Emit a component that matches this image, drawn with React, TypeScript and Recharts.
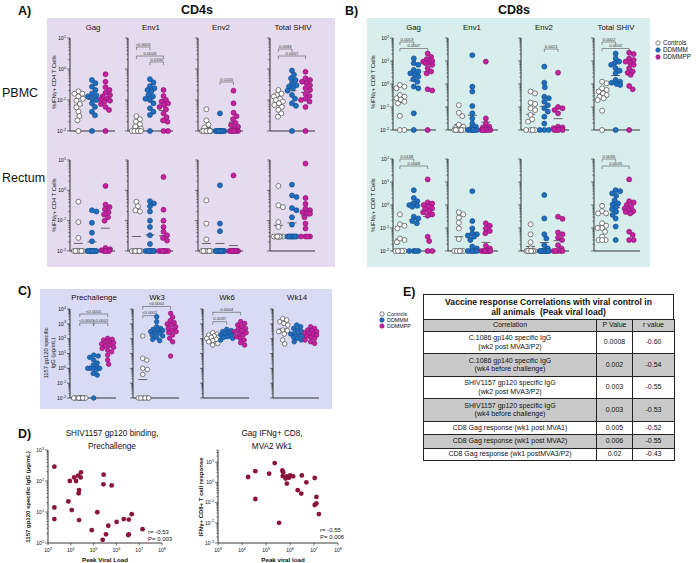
import React from 'react';
import { ScatterChart, Scatter, XAxis, YAxis, ReferenceLine } from 'recharts';

const FONT = '"Liberation Sans", Arial, Helvetica, sans-serif';

const groupNames = ['Controls', 'DDMMM', 'DDMMPP'];
const groupFill = ['#ffffff', '#1f6dbf', '#c4229f'];
const groupStroke = ['#4a4a4a', '#15508e', '#8c1675'];

const antigens = ['Gag', 'Env1', 'Env2', 'Total SHIV'];
const timepoints = ['Prechallenge', 'Wk3', 'Wk6', 'Wk14'];

// ---- A) CD4s, % IFNg+ CD4 T cells  [Controls, DDMMM, DDMMPP]
const cd4PbmcGag = [
  [0.19, 0.16, 0.16, 0.13, 0.11, 0.095, 0.074, 0.058, 0.042, 0.03, 0.022, 0.01],
  [0.44, 0.35, 0.27, 0.21, 0.16, 0.14, 0.13, 0.11, 0.1, 0.078, 0.06, 0.042, 0.032, 0.01],
  [0.68, 0.39, 0.26, 0.21, 0.17, 0.145, 0.13, 0.11, 0.105, 0.095, 0.089, 0.074, 0.06, 0.048, 0.01],
];
const cd4PbmcEnv1 = [
  [0.03, 0.024, 0.02, 0.0165, 0.014, 0.012, 0.01, 0.01, 0.01, 0.01, 0.01, 0.01],
  [0.47, 0.37, 0.28, 0.24, 0.21, 0.19, 0.145, 0.13, 0.11, 0.1, 0.078, 0.054, 0.042, 0.033, 0.01],
  [0.21, 0.135, 0.1, 0.089, 0.078, 0.069, 0.06, 0.05, 0.037, 0.028, 0.022, 0.02, 0.01, 0.01],
];
const cd4PbmcEnv2 = [
  [0.05, 0.022, 0.016, 0.013, 0.01, 0.01, 0.01, 0.01, 0.01, 0.01, 0.01, 0.01],
  [0.037, 0.01, 0.01, 0.01, 0.01, 0.01, 0.01, 0.01, 0.01, 0.01, 0.01, 0.01, 0.01, 0.01],
  [0.2, 0.078, 0.039, 0.03, 0.024, 0.018, 0.0155, 0.0138, 0.012, 0.01, 0.01, 0.01, 0.01, 0.01, 0.01],
];
const cd4PbmcTotal = [
  [0.21, 0.16, 0.145, 0.13, 0.11, 0.1, 0.089, 0.078, 0.069, 0.06, 0.048, 0.037, 0.029],
  [0.89, 0.65, 0.5, 0.44, 0.35, 0.3, 0.27, 0.24, 0.2, 0.145, 0.11, 0.078, 0.065, 0.01],
  [0.81, 0.5, 0.44, 0.39, 0.35, 0.3, 0.24, 0.21, 0.16, 0.135, 0.11, 0.1, 0.089, 0.06, 0.01],
];
const cd4RectumGag = [
  [0.42, 0.09, 0.027, 0.01, 0.01, 0.01, 0.01, 0.01, 0.01, 0.01, 0.01, 0.01],
  [0.22, 0.2, 0.085, 0.04, 0.021, 0.01, 0.01, 0.01, 0.01, 0.01, 0.01, 0.01, 0.01, 0.01, 0.01],
  [1.4, 0.34, 0.28, 0.24, 0.19, 0.16, 0.13, 0.1, 0.0126, 0.0114, 0.0105, 0.01, 0.01, 0.01, 0.01],
];
const cd4RectumEnv1 = [
  [0.42, 0.3, 0.22, 0.2, 0.01, 0.01, 0.01, 0.01, 0.01, 0.01, 0.01, 0.01],
  [0.44, 0.37, 0.3, 0.2, 0.1, 0.062, 0.033, 0.017, 0.01, 0.01, 0.01, 0.01, 0.01, 0.01, 0.01, 0.01],
  [2.75, 0.23, 0.1, 0.062, 0.043, 0.033, 0.027, 0.022, 0.01, 0.01, 0.01, 0.01, 0.01, 0.01, 0.01],
];
const cd4RectumEnv2 = [
  [0.47, 0.08, 0.024, 0.01, 0.01, 0.01, 0.01, 0.01, 0.01, 0.01, 0.01, 0.01],
  [1.46, 0.08, 0.045, 0.01, 0.01, 0.01, 0.01, 0.01, 0.01, 0.01, 0.01, 0.01, 0.01, 0.01, 0.01],
  [3.1, 0.01, 0.01, 0.01, 0.01, 0.01, 0.01, 0.01, 0.01, 0.01, 0.01, 0.01, 0.01, 0.01],
];
const cd4RectumTotal = [
  [1.39, 0.32, 0.28, 0.09, 0.062, 0.03, 0.03, 0.03, 0.03, 0.03, 0.03, 0.03],
  [1.54, 0.68, 0.6, 0.26, 0.22, 0.13, 0.074, 0.03, 0.03, 0.03, 0.03, 0.03, 0.03, 0.03, 0.03, 0.03],
  [7.6, 0.56, 0.36, 0.25, 0.22, 0.19, 0.18, 0.17, 0.13, 0.08, 0.055, 0.03, 0.03, 0.03, 0.03],
];

// ---- B) CD8s, % IFNg+ CD8 T cells
const cd8PbmcGag = [
  [0.91, 0.77, 0.65, 0.33, 0.28, 0.24, 0.21, 0.17, 0.145, 0.041, 0.01, 0.01],
  [13, 8, 6.8, 4.1, 3.5, 2.9, 2.5, 2.1, 1.6, 1.26, 0.77, 0.65, 0.053, 0.01],
  [21, 15, 12, 10, 9.4, 8.5, 8, 6.8, 4.8, 3.5, 2.9, 0.59, 0.52, 0.01],
];
const cd8PbmcEnv1 = [
  [0.12, 0.056, 0.04, 0.017, 0.014, 0.012, 0.01, 0.01, 0.01, 0.01, 0.01, 0.01],
  [18, 0.77, 0.47, 0.11, 0.053, 0.032, 0.019, 0.014, 0.012, 0.01, 0.01, 0.01, 0.01, 0.01, 0.01],
  [9.4, 0.032, 0.019, 0.014, 0.013, 0.012, 0.01, 0.01, 0.01, 0.01, 0.01, 0.01],
];
const cd8PbmcEnv2 = [
  [0.47, 0.39, 0.155, 0.135, 0.088, 0.074, 0.045, 0.029, 0.023, 0.01, 0.01, 0.01, 0.01],
  [5.7, 1.14, 0.72, 0.28, 0.24, 0.17, 0.12, 0.088, 0.063, 0.038, 0.019, 0.01, 0.01, 0.01],
  [3.1, 0.1, 0.088, 0.074, 0.053, 0.014, 0.013, 0.012, 0.011, 0.01, 0.01, 0.01, 0.01],
];
const cd8PbmcTotal = [
  [1.26, 1.07, 0.65, 0.55, 0.47, 0.39, 0.33, 0.28, 0.24, 0.2, 0.069, 0.01],
  [21, 13, 9.4, 8, 6.8, 4.8, 3.8, 2.9, 1.5, 1.26, 1.14, 1.0, 0.91, 0.01],
  [23, 20, 13, 11, 9.4, 8, 6.8, 4.8, 3.5, 3.1, 2.5, 0.82, 0.59, 0.01],
];
const cd8RectumGag = [
  [0.39, 0.145, 0.126, 0.096, 0.035, 0.03, 0.024, 0.01, 0.01, 0.01, 0.01, 0.01],
  [4.4, 2.0, 1.47, 1.16, 0.99, 0.92, 0.84, 0.31, 0.26, 0.2, 0.16, 0.01, 0.01, 0.01, 0.01],
  [13, 1.29, 1.16, 0.99, 0.84, 0.71, 0.66, 0.54, 0.48, 0.39, 0.34, 0.042, 0.027, 0.01, 0.01],
];
const cd8RectumEnv1 = [
  [0.48, 0.39, 0.28, 0.17, 0.096, 0.033, 0.01, 0.01, 0.01, 0.01, 0.01, 0.01],
  [4.0, 0.2, 0.096, 0.059, 0.053, 0.047, 0.042, 0.03, 0.0155, 0.013, 0.01, 0.01, 0.01, 0.01, 0.01],
  [0.16, 0.126, 0.096, 0.074, 0.059, 0.017, 0.013, 0.01, 0.01, 0.01, 0.01, 0.01, 0.01, 0.01],
];
const cd8RectumEnv2 = [
  [0.145, 0.053, 0.024, 0.013, 0.01, 0.01, 0.01, 0.01, 0.01, 0.01, 0.01, 0.01],
  [2.7, 0.26, 0.053, 0.035, 0.018, 0.013, 0.01, 0.01, 0.01, 0.01, 0.01, 0.01, 0.01, 0.01, 0.01],
  [0.31, 0.25, 0.064, 0.053, 0.038, 0.03, 0.018, 0.013, 0.01, 0.01, 0.01, 0.01, 0.01],
];
const cd8RectumTotal = [
  [0.92, 0.54, 0.43, 0.43, 0.16, 0.126, 0.1, 0.1, 0.069, 0.042, 0.03, 0.03, 0.03],
  [4.4, 4.0, 3.2, 2.5, 1.6, 1.17, 1.05, 0.84, 0.66, 0.51, 0.37, 0.26, 0.115, 0.03],
  [13, 1.47, 1.29, 0.99, 0.83, 0.71, 0.6, 0.54, 0.51, 0.43, 0.069, 0.05, 0.03, 0.03],
];

// ---- C) 1157 gp120 specific IgG (ug/mL)
const igPre = [
  [0.01, 0.01, 0.01, 0.01, 0.01, 0.01, 0.01, 0.01, 0.01, 0.01],
  [7.8, 6.8, 5.5, 3.6, 2.3, 1.65, 1.15, 1.0, 1.0, 1.0, 1.0, 0.76, 0.45, 0.35, 0.01],
  [105, 90, 81, 69, 62, 53, 44, 37, 32, 26, 22, 17, 13, 7.8, 3.6, 1.9],
];
const igWk3 = [
  [150, 4.7, 3.6, 1.0, 0.84, 0.39, 0.01, 0.01, 0.01, 0.01, 0.01, 0.01],
  [3000, 1400, 640, 490, 420, 380, 350, 300, 250, 230, 175, 150, 123, 90, 73],
  [5100, 2800, 1600, 1200, 980, 830, 640, 490, 380, 300, 250, 175, 105, 62, 6.7],
];
const igWk6 = [
  [250, 205, 175, 150, 136, 123, 105, 90, 73, 62, 48, 37],
  [420, 350, 300, 250, 230, 205, 175, 150, 136, 123, 105, 81],
  [1400, 1070, 830, 640, 490, 420, 350, 300, 250, 205, 175, 136, 105, 81, 53, 37],
];
const igWk14 = [
  [2300, 1800, 1400, 1070, 830, 380, 350, 300, 205, 81, 44],
  [830, 640, 490, 380, 300, 230, 205, 175, 150, 123, 105, 81, 62],
  [640, 490, 380, 350, 300, 250, 230, 195, 175, 150, 123, 105, 81, 62, 48],
];

// significance brackets: [group a, group b, p]
type Stat = [number, number, string];
const cd4PbmcStats: Stat[][] = [[], [[0, 1, '<0.0001'], [0, 2, '0.0003'], [1, 2, '0.0100']], [[1, 2, '0.0100']], [[0, 1, '0.0084'], [0, 2, '0.0407']]];
const cd8PbmcStats: Stat[][] = [[[0, 1, '0.0013'], [0, 2, '0.0007']], [], [[1, 2, '0.0421']], [[0, 1, '0.0002'], [0, 2, '0.0002']]];
const cd8RectumStats: Stat[][] = [[[0, 1, '0.0138'], [0, 2, '0.0069']], [], [], [[0, 1, '0.0035'], [0, 2, '0.0026']]];
const igStats: Stat[][] = [[[0, 2, '<0.0001'], [0, 1, '<0.0001'], [1, 2, '<0.0001']], [[0, 2, '<0.0001'], [0, 1, '<0.0001']], [[0, 2, '0.0004'], [0, 1, '0.0037']], []];

// ---- D) correlations with peak viral load
const vlGp120 = [1.9e3, 1.9e3, 1.9e3, 7.8e3, 9.1e3, 1.1e4, 1.4e4, 1.7e4, 2.1e4, 2.2e4, 2.3e4, 2.3e4, 2.7e4, 2.8e4, 8.3e4, 1.45e5, 2.7e5, 2.75e5, 2.5e5, 3.5e5, 4.4e5, 6.2e5, 1.02e6, 2.1e6, 3.3e6, 3.5e6, 3.5e6, 4.7e6, 1.4e7];
const igGp120 = [290, 14, 5.9, 22, 100, 11.5, 130, 100, 150, 40, 51, 5.5, 130, 190, 2.6, 9.8, 78, 160, 1.27, 1.9, 3.6, 72, 4.8, 5.9, 1.8, 1.9, 5.7, 8.5, 2.8];
const vlGag = [1.8e4, 3.6e4, 3.6e4, 1.35e5, 2.3e5, 3.5e5, 4.8e5, 5.0e5, 5.2e5, 6.6e5, 7.4e5, 9.1e5, 1.02e6, 7.4e5, 1.35e6, 3.1e6, 2.1e6, 2.95e6, 4.8e6, 1.07e7, 1.26e7, 1.07e7, 1.26e7, 1.6e7];
const gagCd8 = [1.85, 3.6, 0.15, 2.7, 9, 0.01, 3.9, 2.05, 3.2, 1.55, 2.0, 1.7, 2.2, 0.87, 2.0, 2.2, 0.41, 0.28, 1.0, 1.65, 0.19, 0.076, 0.09, 0.027];

// ---- E) table
const tableHead = ['Correlation', 'P Value', 'r value'];
const corrNames = [
  ['C.1086 gp140 specific IgG', '(wk2 post MVA3/P2)'],
  ['C.1086 gp140 specific IgG', '(wk4 before challenge)'],
  ['SHIV1157 gp120 specific IgG', '(wk2 post MVA3/P2)'],
  ['SHIV1157 gp120 specific IgG', '(wk4 before challenge)'],
  ['CD8 Gag response (wk1 post MVA1)'],
  ['CD8 Gag response (wk1 post MVA2)'],
  ['CD8 Gag response (wk1 postMVA3/P2)'],
];
const corrP = ['0.0008', '0.002', '0.003', '0.003', '0.005', '0.006', '0.02'];
const corrR = ['-0.60', '-0.54', '-0.55', '-0.53', '-0.52', '-0.55', '-0.43'];

function logTicks(lo: number, hi: number, minors = true) {
  const out: number[] = [];
  const a = Math.floor(Math.log10(lo) + 1e-9);
  const b = Math.ceil(Math.log10(hi) - 1e-9);
  for (let e = a; e <= b; e++) {
    for (let m = 1; m <= (minors ? 9 : 1); m++) {
      const v = m * Math.pow(10, e);
      if (v >= lo * (1 - 1e-9) && v <= hi * (1 + 1e-9)) out.push(v);
    }
  }
  return out;
}

// simple beeswarm: horizontal pixel offsets so dots don't pile up
function swarm(vals: number[], pxPerLog: number, r: number, maxPx: number) {
  const order = vals.map((_, i) => i).sort((i, j) => vals[j] - vals[i]);
  const placed: { x: number; y: number }[] = [];
  const off = new Array(vals.length).fill(0);
  const d = 2 * r * 0.92;
  for (const i of order) {
    const y = Math.log10(vals[i]) * pxPerLog;
    let best = 0;
    let bestGap = -1;
    const n = 2 * Math.round(maxPx / 0.5);
    for (let k = 0; k <= n; k++) {
      const x = (k % 2 === 1 ? 1 : -1) * Math.ceil(k / 2) * 0.5;
      let gap = Infinity;
      for (const p of placed) gap = Math.min(gap, Math.hypot(x - p.x, y - p.y));
      if (gap >= d) { best = x; break; }
      if (gap > bestGap + 0.01) { bestGap = gap; best = x; }
    }
    placed.push({ x: best, y });
    off[i] = best;
  }
  return off;
}

const Pow = ({ x, y, e, size, anchor }: any) => (
  <text x={x} y={y} fontSize={size} textAnchor={anchor} fill="#111" fontFamily={FONT}>
    10<tspan dy={-size * 0.45} fontSize={size * 0.75}>{e}</tspan>
  </text>
);

function LeftLogTick(props: any) {
  const { x, y, payload, labels, size = 5 } = props;
  const lv = Math.log10(payload.value);
  const e = Math.round(lv);
  const major = Math.abs(lv - e) < 1e-6;
  return (
    <g>
      <line x1={x} x2={x - (major ? 3 : 1.6)} y1={y} y2={y} stroke="#222" strokeWidth={0.6} />
      {major && labels && <Pow x={x - 4} y={y + size * 0.35} e={e} size={size} anchor="end" />}
    </g>
  );
}

function BottomLogTick(props: any) {
  const { x, y, payload, size = 5 } = props;
  const e = Math.round(Math.log10(payload.value));
  return (
    <g>
      <line x1={x} x2={x} y1={y} y2={y + 2.5} stroke="#222" strokeWidth={0.6} />
      <Pow x={x} y={y + 9} e={e} size={size} anchor="middle" />
    </g>
  );
}

const bracketShape = (label: string) => (p: any) => (
  <g>
    <path d={`M${p.x1},${p.y1 + 3}V${p.y1}H${p.x2}V${p.y1 + 3}`} fill="none" stroke="#555" strokeWidth={0.6} />
    <text x={(p.x1 + p.x2) / 2} y={p.y1 - 1.3} fontSize={4.2} textAnchor="middle" fill="#333" fontFamily={FONT}>{label}</text>
  </g>
);

interface DotPlotProps {
  x: number; y: number; w: number; h: number;
  lo: number; hi: number;
  xDomain: [number, number];
  groups: number[][];
  labels?: boolean;
  xTicks?: boolean;
  stats?: Stat[];
  statTops?: number[];
  r?: number;
  spread?: number;
}

function DotPlot({ x, y, w, h, lo, hi, xDomain, groups, labels = false, xTicks = false, stats = [], statTops = [], r = 2.5, spread = 4.5 }: DotPlotProps) {
  const YW = 24, MT = 40, XH = 6, MR = 2;
  const L1 = Math.log10(hi);
  const pxPerLog = h / (L1 - Math.log10(lo));
  const pxPerUnit = w / (xDomain[1] - xDomain[0]);
  const series = groups.map((vals, g) => {
    const offs = swarm(vals, pxPerLog, r, spread);
    return vals.map((v, i) => ({ x: g + offs[i] / pxPerUnit, y: v }));
  });
  const means = groups.map((vals) => Math.pow(10, vals.reduce((s, v) => s + Math.log10(v), 0) / vals.length));
  const half = 4.5 / pxPerUnit;
  return (
    <div style={{ position: 'absolute', left: x - YW, top: y - MT }}>
      <ScatterChart width={YW + w + MR} height={MT + h + XH} margin={{ top: MT, right: MR, bottom: 0, left: 0 }}>
        <XAxis type="number" dataKey="x" domain={xDomain} ticks={[0, 1, 2]} tick={false} height={XH}
          tickLine={xTicks ? { stroke: '#222', strokeWidth: 0.7 } : false} tickSize={2.5}
          axisLine={{ stroke: '#222', strokeWidth: 0.9 }} />
        <YAxis type="number" dataKey="y" scale="log" domain={[lo, hi]} ticks={logTicks(lo, hi)} interval={0}
          width={YW} tickSize={0} tickMargin={0} tickLine={false} axisLine={{ stroke: '#222', strokeWidth: 0.9 }}
          tick={(p: any) => <LeftLogTick {...p} labels={labels} />} />
        {series.map((d, g) => (
          <Scatter key={g} name={groupNames[g]} data={d} isAnimationActive={false}
            shape={(p: any) => <circle cx={p.cx} cy={p.cy} r={r} fill={groupFill[g]} stroke={groupStroke[g]} strokeWidth={0.7} />} />
        ))}
        {means.map((m, g) => (
          <ReferenceLine key={'m' + g} segment={[{ x: g - half, y: m }, { x: g + half, y: m }]} stroke="#555" strokeWidth={0.9} ifOverflow="visible" />
        ))}
        {stats.map(([a, b, pv], k) => {
          const v = Math.pow(10, L1 - statTops[k] / pxPerLog);
          return <ReferenceLine key={'s' + k} segment={[{ x: a, y: v }, { x: b, y: v }]} ifOverflow="visible" shape={bracketShape(pv)} />;
        })}
      </ScatterChart>
    </div>
  );
}

interface CorrPlotProps {
  x: number; y: number; w: number; h: number;
  xLo: number; xHi: number; yLo: number; yHi: number;
  xs: number[]; ys: number[];
}

function CorrPlot({ x, y, w, h, xLo, xHi, yLo, yHi, xs, ys }: CorrPlotProps) {
  const YW = 30, MT = 6, XH = 14, MR = 8;
  const data = xs.map((v, i) => ({ x: v, y: ys[i] }));
  return (
    <div style={{ position: 'absolute', left: x - YW, top: y - MT }}>
      <ScatterChart width={YW + w + MR} height={MT + h + XH} margin={{ top: MT, right: MR, bottom: 0, left: 0 }}>
        <XAxis type="number" dataKey="x" scale="log" domain={[xLo, xHi]} ticks={logTicks(xLo, xHi, false)} interval={0}
          height={XH} tickSize={0} tickMargin={0} tickLine={false} axisLine={{ stroke: '#222', strokeWidth: 0.9 }}
          tick={(p: any) => <BottomLogTick {...p} />} />
        <YAxis type="number" dataKey="y" scale="log" domain={[yLo, yHi]} ticks={logTicks(yLo, yHi)} interval={0}
          width={YW} tickSize={0} tickMargin={0} tickLine={false} axisLine={{ stroke: '#222', strokeWidth: 0.9 }}
          tick={(p: any) => <LeftLogTick {...p} labels />} />
        <Scatter data={data} isAnimationActive={false}
          shape={(p: any) => <circle cx={p.cx} cy={p.cy} r={2.4} fill="#8a1538" />} />
      </ScatterChart>
    </div>
  );
}

const T = ({ x, y, s = 7.8, w = 'normal', a = 'start', rot = 0, c = '#111', children }: any) => (
  <text x={x} y={y} fontSize={s} fontWeight={w} textAnchor={a} fill={c} fontFamily={FONT}
    transform={rot ? `rotate(${rot} ${x} ${y})` : undefined}>{children}</text>
);

function Legend({ x, y, gap, s }: { x: number; y: number; gap: number; s: number }) {
  return (
    <g>
      {groupNames.map((n, i) => (
        <g key={n}>
          <circle cx={x} cy={y + i * gap} r={2.2} fill={groupFill[i]} stroke={groupStroke[i]} strokeWidth={0.7} />
          <T x={x + 5} y={y + i * gap + s * 0.36} s={s}>{n}</T>
        </g>
      ))}
    </g>
  );
}

const aCols = [70, 128, 198, 270];
const bCols = [393, 448, 521, 594];
const bW = [43, 50, 48, 46];
const bDom: [number, number][] = [[-0.5, 2.6], [-0.8, 2.9], [-0.7, 2.8], [-0.6, 2.8]];
const cCols = [70, 133, 203, 273];

const cd4Pbmc = [cd4PbmcGag, cd4PbmcEnv1, cd4PbmcEnv2, cd4PbmcTotal];
const cd4Rectum = [cd4RectumGag, cd4RectumEnv1, cd4RectumEnv2, cd4RectumTotal];
const cd8Pbmc = [cd8PbmcGag, cd8PbmcEnv1, cd8PbmcEnv2, cd8PbmcTotal];
const cd8Rectum = [cd8RectumGag, cd8RectumEnv1, cd8RectumEnv2, cd8RectumTotal];
const igAll = [igPre, igWk3, igWk6, igWk14];

const cd4PbmcTops = [[], [9, 18, 24], [44], [11, 18]];
const cd8PbmcTops = [[4, 10.5], [], [11], [4, 10.5]];
const cd8RectumTops = [[0, 7], [], [], [0, 7]];
const igTops = [[5, 14, 14], [-2.5, 6.7], [3.3, 12.7], []];

const rowH = [22, 23, 22, 23, 13, 14, 12];

export default function App() {
  const cell: React.CSSProperties = { border: '1px solid #222', textAlign: 'center', padding: 0, lineHeight: '8.5px' };
  return (
    <div style={{ position: 'absolute', left: 0, top: 0, width: 696, height: 563, background: '#fff', overflow: 'hidden', fontFamily: FONT }}>
      <svg width={696} height={563} style={{ position: 'absolute', left: 0, top: 0 }}>
        <rect x={47} y={18} width={288} height={249} fill="#e4dcee" />
        <rect x={367} y={18} width={283} height={249} fill="#d8eeec" />
        <rect x={40} y={289} width={292} height={120} fill="#d9dbf5" />

        <T x={18} y={15} s={12.5} w="bold">A)</T>
        <T x={197} y={14} s={12.5} w="bold" a="middle">CD4s</T>
        <T x={345} y={15} s={12.5} w="bold">B)</T>
        <T x={514} y={14} s={12.5} w="bold" a="middle">CD8s</T>
        {antigens.map((n, i) => <T key={'a' + n} x={aCols[i] + 23} y={29.5} a="middle">{n}</T>)}
        {antigens.map((n, i) => <T key={'b' + n} x={bCols[i] + bW[i] / 2 - 1} y={29.5} a="middle">{n}</T>)}
        <T x={2} y={97} s={12.5}>PBMC</T>
        <T x={2} y={182} s={12.5}>Rectum</T>
        <T x={56} y={82} s={5.8} a="middle" rot={-90}>%IFNγ+ CD4 T Cells</T>
        <T x={56} y={205} s={5.8} a="middle" rot={-90}>%IFNγ+ CD4 T Cells</T>
        <T x={375} y={82} s={5.8} a="middle" rot={-90}>%IFNγ+ CD8 T Cells</T>
        <T x={375} y={205} s={5.8} a="middle" rot={-90}>%IFNγ+ CD8 T Cells</T>
        <Legend x={658} y={43} gap={7} s={6.3} />

        <T x={18} y={295} s={12.5} w="bold">C)</T>
        {timepoints.map((n, i) => <T key={n} x={cCols[i] + 24} y={300} a="middle">{n}</T>)}
        <T x={48} y={353} s={5.8} a="middle" rot={-90}>1157 gp120 specific</T>
        <T x={55} y={353} s={5.8} a="middle" rot={-90}>IgG (μg/mL)</T>
        <Legend x={382} y={314} gap={6} s={5.4} />

        <T x={18} y={438} s={12.5} w="bold">D)</T>
        <T x={112} y={436} s={8.2} a="middle">SHIV1157 gp120 binding,</T>
        <T x={112} y={449} s={8.2} a="middle">Prechallenge</T>
        <T x={272} y={436} s={8.2} a="middle">Gag IFNg+ CD8,</T>
        <T x={272} y={449} s={8.2} a="middle">MVA2 Wk1</T>
        <T x={30} y={497} s={6} w="bold" a="middle" rot={-90}>1157 gp120 specific IgG (μg/mL)</T>
        <T x={203} y={497} s={6} w="bold" a="middle" rot={-90}>IFNγ+ CD8+ T cell response</T>
        <T x={105} y={562} s={6.2} w="bold" a="middle">Peak Viral Load</T>
        <T x={283} y={562} s={6.2} w="bold" a="middle">Peak viral load</T>
        <T x={148} y={534} s={6}>r=  -0.53</T>
        <T x={148} y={541} s={6}>P=  0.003</T>
        <T x={320} y={532} s={6}>r= -0.55</T>
        <T x={320} y={539} s={6}>P= 0.006</T>

        <T x={403} y={296} s={12.5} w="bold">E)</T>
      </svg>

      {cd4Pbmc.map((g, i) => (
        <DotPlot key={'ap' + i} x={aCols[i]} y={38} w={45} h={93} lo={0.01} hi={10} xDomain={[-0.62, 2.7]} groups={g}
          labels={i === 0} xTicks={i === 3} stats={cd4PbmcStats[i]} statTops={cd4PbmcTops[i]} />
      ))}
      {cd4Rectum.map((g, i) => (
        <DotPlot key={'ar' + i} x={aCols[i]} y={160} w={45} h={91} lo={0.01} hi={10} xDomain={[-0.62, 2.7]} groups={g}
          labels={i === 0} xTicks={i === 3} />
      ))}
      {cd8Pbmc.map((g, i) => (
        <DotPlot key={'bp' + i} x={bCols[i]} y={38} w={bW[i]} h={92} lo={0.01} hi={100} xDomain={bDom[i]} groups={g}
          labels={i === 0} xTicks={i === 3} stats={cd8PbmcStats[i]} statTops={cd8PbmcTops[i]} />
      ))}
      {cd8Rectum.map((g, i) => (
        <DotPlot key={'br' + i} x={bCols[i]} y={159} w={bW[i]} h={92} lo={0.01} hi={100} xDomain={bDom[i]} groups={g}
          labels={i === 0} xTicks={i === 3} stats={cd8RectumStats[i]} statTops={cd8RectumTops[i]} />
      ))}
      {igAll.map((g, i) => (
        <DotPlot key={'c' + i} x={cCols[i]} y={309} w={46} h={89} lo={0.01} hi={10000} xDomain={[-0.7, 2.6]} groups={g}
          labels={i === 0} xTicks r={2.3} spread={6} stats={igStats[i]} statTops={igTops[i]} />
      ))}

      <CorrPlot x={48} y={450} w={114} h={93} xLo={1e3} xHi={1e8} yLo={1} yHi={1000} xs={vlGp120} ys={igGp120} />
      <CorrPlot x={218} y={450} w={120} h={93} xLo={1e3} xHi={1e8} yLo={0.001} yHi={40} xs={vlGag} ys={gagCd8} />

      <div style={{ position: 'absolute', left: 423, top: 294, width: 251, color: '#111' }}>
        <div style={{ border: '1px solid #222', borderBottom: 'none', textAlign: 'center', fontWeight: 'bold', fontSize: 8.6, lineHeight: '10px', padding: '2px 0 2px 0', height: 20 }}>
          Vaccine response Correlations with viral control in<br />all animals&nbsp; (Peak viral load)
        </div>
        <table style={{ borderCollapse: 'collapse', tableLayout: 'fixed', width: 251, fontSize: 7, fontFamily: FONT }}>
          <colgroup><col style={{ width: 173 }} /><col style={{ width: 36 }} /><col style={{ width: 42 }} /></colgroup>
          <tbody>
            <tr style={{ height: 12, background: '#c9c9c9' }}>
              {tableHead.map((h) => <td key={h} style={cell}>{h}</td>)}
            </tr>
            {corrNames.map((n, i) => (
              <tr key={i} style={{ height: rowH[i], background: i % 2 === 1 ? '#c9c9c9' : '#fff' }}>
                <td style={cell}>{n.map((l, k) => <div key={k}>{l}</div>)}</td>
                <td style={cell}>{corrP[i]}</td>
                <td style={cell}>{corrR[i]}</td>
              </tr>
            ))}
          </tbody>
        </table>
      </div>
    </div>
  );
}
